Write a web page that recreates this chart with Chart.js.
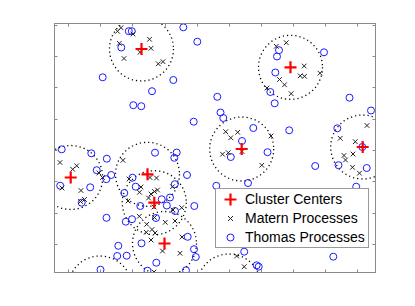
<!DOCTYPE html>
<html>
<head>
  <meta charset="utf-8">
  <title>Cluster Processes</title>
  <script src="https://cdn.jsdelivr.net/npm/chart.js"></script>
  <style>
    body { margin: 0; background: #fff; }
    #wrap { position: relative; width: 415px; height: 306px; }
    #legend {
      position: absolute; left: 215px; top: 188px; width: 152px; height: 58px;
      border: 1px solid #999; background: #fff;
      font-family: "Liberation Sans", Arial, sans-serif; font-size: 14px; color: #000;
    }
    .row { position: absolute; left: 0; width: 100%; height: 19px; line-height: 19px; white-space: nowrap; }
    .row svg { position: absolute; left: 8px; top: 3px; }
    .row span { position: absolute; left: 29px; }
  </style>
</head>
<body>
  <div id="wrap">
    <canvas id="chart" width="415" height="306"></canvas>
    <div id="legend"></div>
  </div>

  <script>
    // cluster centers (last two lie just below the window, only their rings show)
    const centerX = [87.5, 236.5, 16.7, 93.5, 100.3, 110.5, 187.7, 308.7, 175, 46];
    const centerY = [224, 205.7, 95.5, 98.7, 70.3, 29.5, 124, 126, -13, -15];
    const clusterRadius = 32;

    // Matern points
    const maternX = [67, 63.5, 65.3, 70, 86, 95.5, 97, 104.3, 109, 79,
      222.3, 232.3, 250.2, 246.2, 250.5, 266, 225.5, 230.5, 213, 237.2,
      6, 18.7, 22.7, 8, 27, 26.5, 30.5, 45, 48.5,
      69, 75, 74, 87, 85.5, 96, 102.5, 103.5, 100.5, 97, 94.5, 100, 119, 127.7, 118.5,
      85.3, 92.7, 98, 92.3, 97, 101, 100.5, 111.3, 121, 128, 108.5, 126, 100,
      171.7, 183.7, 176.7, 168.5, 174.3, 188, 207.8, 217,
      313, 286.2, 301.3, 299, 290, 291.5, 298.5, 305.5,
      182.7, 190.2];
    const maternY = [245.3, 241.7, 229.7, 214.5, 220.7, 233.7, 224.7, 209.2, 211.3, 239,
      226.7, 230.3, 207, 197.2, 196.7, 199.8, 193.5, 188.2, 185, 179.3,
      110.5, 103.7, 107.2, 85, 82.5, 71.5, 73.5, 100, 95.5,
      112.7, 94, 72, 86, 80.7, 95.5, 95, 83, 81.5, 79, 75, 66, 63, 65.3, 86.3,
      56.7, 48.7, 43.5, 40.7, 33, 40, 55.5, 50.7, 52, 36, 22, 19.7, 1,
      141.3, 140.7, 135.2, 118.8, 120.3, 121.5, 107.7, 137,
      147.5, 134.7, 131.3, 119, 117.5, 113, 105.7, 99.8,
      17, 6.3];

    // Thomas points
    const thomasX = [74.8, 77.8, 67.3, 48.7, 98, 79.3, 87.3, 129.3, 143.3, 119.3,
      139.7, 163.3, 166.5, 169.3, 199.3, 188, 225, 223, 221.3, 216.3,
      220.7, 270, 295.5, 317, 283.3, 235.2, 213.5, 261.2, 284.5, 312.7,
      308.3, 302.2, 194, 162.3, 176.8, 190.2, 202.7, 204.7, 279.3,
      7.7, 37.3, 52.8, 42.7, 52.3, 57.2, 6.2, 36.2, 27.7, 52.5,
      78.5, 81.7, 70.3, 86.3, 101, 122.7, 120.3, 133, 120.8, 107.7,
      116, 112.8, 121, 140.3, 71.8, 78, 102,
      87.5, 133.7, 140, 141.8, 64.3, 63.2, 72.7, 102.3, 46.5, 93.5, 132];
    const thomasY = [241.8, 241.8, 225.5, 195.7, 181.8, 167.8, 166.8, 245.7, 231.3, 193,
      151.3, 176.2, 160.5, 155, 145, 132, 222.8, 216.5, 200.5, 181,
      169.7, 220.7, 175.3, 162.5, 144.7, 142.7, 120.8, 107, 107.8, 105,
      126, 86.3, 90, 87.2, 116, 21.3, 7.7, 6.3, 16.3,
      123.7, 119.7, 114.3, 102.8, 93.8, 98, 87.3, 85.7, 70.3, 55.2,
      95.3, 86.3, 80, 67, 120.3, 120.5, 115.2, 98, 88.8, 73.7,
      75.5, 67.5, 62, 67, 51.3, 53.8, 55,
      29.7, 36.2, 23.8, 16, 27.2, 17, 17.3, 10.3, 3.3, 2.3, 2.7];

    // tick positions (no labels shown)
    const xTicks = [14, 46, 78, 111, 143, 175, 207, 239, 271, 303];
    const yTicks = [29, 60, 92, 123, 154, 186, 217, 248];

    const toPoints = (xs, ys) => xs.map((x, i) => ({ x: x, y: ys[i] }));

    // dotted circle round every cluster center
    const ringPlugin = {
      id: 'rings',
      beforeDatasetsDraw(chart) {
        const { ctx, chartArea: a, scales: { x, y } } = chart;
        ctx.save();
        ctx.beginPath();
        ctx.rect(a.left, a.top, a.right - a.left, a.bottom - a.top);
        ctx.clip();
        ctx.strokeStyle = '#000';
        ctx.lineWidth = 1.3;
        ctx.setLineDash([1.2, 3]);
        centerX.forEach((cx, i) => {
          const px = x.getPixelForValue(cx);
          const py = y.getPixelForValue(centerY[i]);
          const r = x.getPixelForValue(cx + clusterRadius) - px;
          ctx.beginPath();
          ctx.arc(px, py, r, 0, 2 * Math.PI);
          ctx.stroke();
        });
        ctx.restore();
      }
    };

    // box with inward ticks on all four sides
    const boxPlugin = {
      id: 'box',
      afterDatasetsDraw(chart) {
        const { ctx, chartArea: a, scales: { x, y } } = chart;
        const L = Math.round(a.left) + 0.5, R = Math.round(a.right) - 0.5;
        const T = Math.round(a.top) + 0.5, B = Math.round(a.bottom) - 0.5;
        const len = 3;
        ctx.save();
        ctx.strokeStyle = '#8a8a8a';
        ctx.lineWidth = 1;
        ctx.strokeRect(L, T, R - L, B - T);
        ctx.beginPath();
        xTicks.forEach(v => {
          const px = Math.round(x.getPixelForValue(v)) + 0.5;
          ctx.moveTo(px, B); ctx.lineTo(px, B - len);
          ctx.moveTo(px, T); ctx.lineTo(px, T + len);
        });
        yTicks.forEach(v => {
          const py = Math.round(y.getPixelForValue(v)) + 0.5;
          ctx.moveTo(L, py); ctx.lineTo(L + len, py);
          ctx.moveTo(R, py); ctx.lineTo(R - len, py);
        });
        ctx.stroke();
        ctx.restore();
      }
    };

    const chart = new Chart(document.getElementById('chart'), {
      type: 'scatter',
      data: {
        datasets: [{
          label: 'Cluster Centers',
          data: toPoints(centerX, centerY),
          pointStyle: 'cross',
          pointRadius: 6,
          borderColor: '#ff0000',
          backgroundColor: '#ff0000',
          pointBorderWidth: 2.2,
          clip: 0
        }, {
          label: 'Matern Processes',
          data: toPoints(maternX, maternY),
          pointStyle: 'crossRot',
          pointRadius: 3.3,
          borderColor: '#222',
          backgroundColor: '#222',
          pointBorderWidth: 1
        }, {
          label: 'Thomas Processes',
          data: toPoints(thomasX, thomasY),
          pointStyle: 'circle',
          pointRadius: 3.5,
          borderColor: '#1a1aff',
          backgroundColor: 'rgba(0,0,0,0)',
          pointBorderWidth: 1
        }]
      },
      options: {
        responsive: false,
        animation: false,
        events: [],
        layout: { padding: { left: 54, top: 23, right: 39, bottom: 33 } },
        plugins: { legend: { display: false }, tooltip: { enabled: false } },
        scales: {
          x: { type: 'linear', min: 0, max: 322, display: false },
          y: { type: 'linear', min: 0, max: 250, display: false }
        }
      },
      plugins: [ringPlugin, boxPlugin]
    });

    // legend built from the datasets
    const markers = {
      cross: '<svg width="13" height="13"><path d="M6.5 0.5V12.5M0.5 6.5H12.5" stroke="#ff0000" stroke-width="2.2"/></svg>',
      crossRot: '<svg width="13" height="13"><path d="M4 4L9 9M9 4L4 9" stroke="#222" stroke-width="1"/></svg>',
      circle: '<svg width="13" height="13"><circle cx="6.5" cy="6.5" r="3.5" fill="none" stroke="#1a1aff" stroke-width="1"/></svg>'
    };
    const legend = document.getElementById('legend');
    chart.data.datasets.forEach((ds, i) => {
      const row = document.createElement('div');
      row.className = 'row';
      row.style.top = (1 + i * 19) + 'px';
      row.innerHTML = markers[ds.pointStyle] + '<span>' + ds.label + '</span>';
      legend.appendChild(row);
    });
  </script>
</body>
</html>
